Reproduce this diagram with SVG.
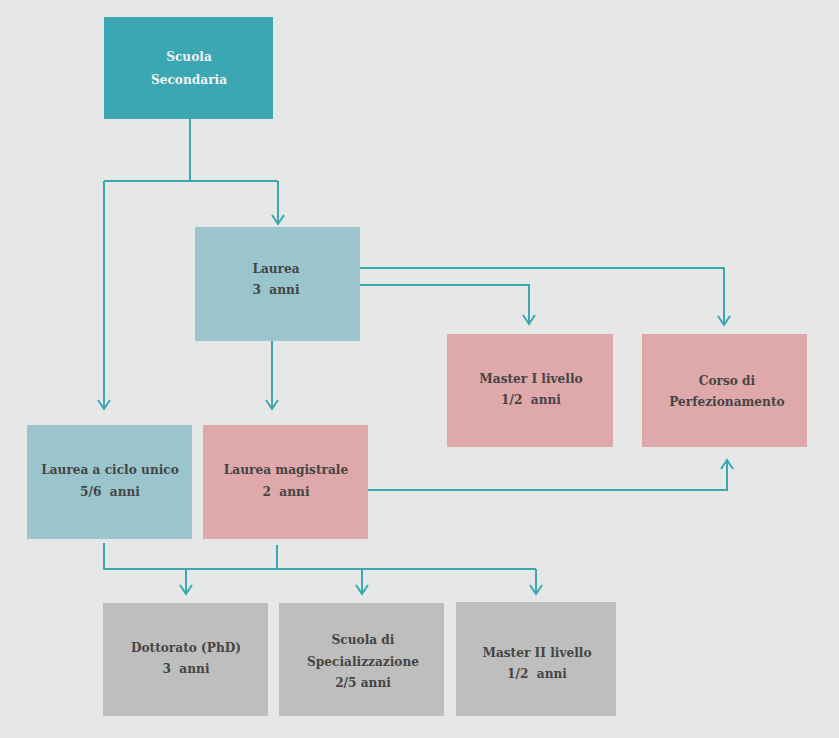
<svg xmlns="http://www.w3.org/2000/svg" width="839" height="738" viewBox="0 0 839 738">
<defs>
<marker id="arr" markerWidth="14" markerHeight="14" refX="11" refY="7" orient="auto" markerUnits="userSpaceOnUse" viewBox="0 0 14 14">
<path d="M2,1 L11,7 L2,13" fill="none" stroke="#3aa7b3" stroke-width="2"/>
</marker>
<style>
text{font-family:"Roboto Slab","DejaVu Serif",serif;font-weight:bold;font-size:13.5px;text-anchor:middle;fill:#454545;font-stretch:condensed;white-space:pre}
.w{fill:#f2f2f2}
.c{fill:none;stroke:#3aa7b3;stroke-width:2}
</style>
</defs>
<rect width="839" height="738" fill="#e6e8e7"/>
<g id="connectors" class="c">
<path d="M190,119 V181"/>
<path d="M104,181 H278"/>
<path d="M104,181 V409" marker-end="url(#arr)"/>
<path d="M278,181 V224" marker-end="url(#arr)"/>
<path d="M360,268 H724 V325" marker-end="url(#arr)"/>
<path d="M360,285 H529 V324" marker-end="url(#arr)"/>
<path d="M272,341 V409" marker-end="url(#arr)"/>
<path d="M368,490 H727 V460" marker-end="url(#arr)"/>
<path d="M104,543 V569 H536"/>
<path d="M277,545 V569"/>
<path d="M186,569 V594" marker-end="url(#arr)"/>
<path d="M362,569 V594" marker-end="url(#arr)"/>
<path d="M536,569 V594" marker-end="url(#arr)"/>
</g>
<g id="scuola-secondaria"><rect x="104" y="17" width="169" height="102" fill="#3aa7b3"/><text class="w" x="189" y="61">Scuola</text><text class="w" x="189" y="84">Secondaria</text></g>
<g id="laurea"><rect x="195" y="227" width="165" height="114" fill="#9bc5cc"/><text x="276" y="273">Laurea</text><text x="276" y="294">3  anni</text></g>
<g id="master-1"><rect x="447" y="334" width="166" height="113" fill="#dfa8ab"/><text x="531" y="383">Master I livello</text><text x="531" y="404">1/2  anni</text></g>
<g id="corso-perfezionamento"><rect x="642" y="334" width="165" height="113" fill="#dfa8ab"/><text x="727" y="385">Corso di</text><text x="727" y="406">Perfezionamento</text></g>
<g id="laurea-ciclo-unico"><rect x="27" y="425" width="165" height="114" fill="#9bc5cc"/><text x="110" y="474">Laurea a ciclo unico</text><text x="110" y="496">5/6  anni</text></g>
<g id="laurea-magistrale"><rect x="203" y="425" width="165" height="114" fill="#dfa8ab"/><text x="286" y="474">Laurea magistrale</text><text x="286" y="496">2  anni</text></g>
<g id="dottorato"><rect x="103" y="603" width="165" height="113" fill="#bebebe"/><text x="186" y="652">Dottorato (PhD)</text><text x="186" y="673">3  anni</text></g>
<g id="scuola-specializzazione"><rect x="279" y="603" width="165" height="113" fill="#bebebe"/><text x="363" y="644">Scuola di</text><text x="363" y="666">Specializzazione</text><text x="363" y="687">2/5 anni</text></g>
<g id="master-2"><rect x="456" y="602" width="160" height="114" fill="#bebebe"/><text x="537" y="657">Master II livello</text><text x="537" y="678">1/2  anni</text></g>
</svg>
